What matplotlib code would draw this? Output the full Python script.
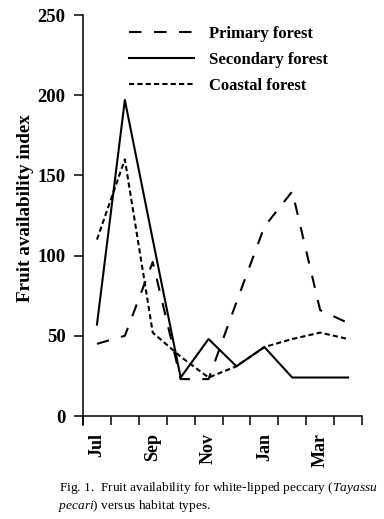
import matplotlib
matplotlib.use("Agg")
import matplotlib.pyplot as plt

months = ["Jul", "Aug", "Sep", "Oct", "Nov", "Dec", "Jan", "Feb", "Mar", "Apr"]
primary = [45, 50, 96, 23, 23, 71, 118, 140, 66, 58]
secondary = [57, 197, 110, 24, 48, 31, 43, 24, 24, 24]
coastal = [110, 160, 52, 37, 24, 31, 43, 48, 52, 48]
shown_labels = ["Jul", "Sep", "Nov", "Jan", "Mar"]
yticks = [0, 50, 100, 150, 200, 250]

plt.rcParams['font.family'] = ['Liberation Serif', 'DejaVu Serif']
plt.rcParams['mathtext.fontset'] = 'custom'
plt.rcParams['mathtext.rm'] = 'Liberation Serif'
plt.rcParams['mathtext.it'] = 'Liberation Serif:italic'

fig = plt.figure(figsize=(3.84, 5.19), dpi=100)
ax = fig.add_axes([83/384, 1-425/519, 279/384, 410/519])

x = [i + 0.5 for i in range(len(months))]
lw = 1.5
ax.plot(x, primary, color='black', lw=lw, dashes=(6, 6), label='Primary forest')
ax.plot(x, secondary, color='black', lw=lw, label='Secondary forest')
ax.plot(x, coastal, color='black', lw=lw, dashes=(2.5, 1.5), label='Coastal forest')

ax.set_xlim(0, len(months))
ax.set_ylim(-5.6, 250)
ax.spines['top'].set_visible(False)
ax.spines['right'].set_visible(False)
ax.spines['bottom'].set_position(('data', 0))
for s in ['left', 'bottom']:
    ax.spines[s].set_linewidth(1.1)

ax.set_xticks(range(len(months) + 1))
ax.set_xticklabels([])
ax.set_xticks([months.index(m) + 0.5 for m in shown_labels], minor=True)
ax.set_xticklabels(shown_labels, minor=True, rotation=90, fontsize=13, fontweight='bold')
ax.tick_params(axis='x', which='major', direction='out', length=6.5, width=1.1)
ax.tick_params(axis='x', which='minor', length=0, pad=12)

ax.set_yticks(yticks)
ax.set_yticklabels([str(v) for v in yticks], fontsize=13.5, fontweight='bold')
ax.tick_params(axis='y', direction='out', length=6.5, width=1.1, pad=6)

ax.set_ylabel('Fruit availability index', fontsize=13.8, fontweight='bold')
ax.yaxis.set_label_coords((34-83)/279, (425-208)/410)

ax.legend(loc='upper left', bbox_to_anchor=(129/384, 1-26/519),
          bbox_transform=fig.transFigure, frameon=False,
          prop={'family': 'Liberation Serif', 'weight': 'bold', 'size': 12},
          handlelength=3.9, handletextpad=0.9, labelspacing=0.6,
          borderpad=0, borderaxespad=0)

fig.text(59/384, 1-488/519, r"Fig. 1.  Fruit availability for white-lipped peccary ($\mathit{Tayassu}$",
         fontsize=9.6, va='center', ha='left')
fig.text(58/384, 1-506/519, r"$\mathit{pecari}$) versus habitat types.",
         fontsize=9.6, va='center', ha='left')

fig.savefig('out.png', dpi=100)
